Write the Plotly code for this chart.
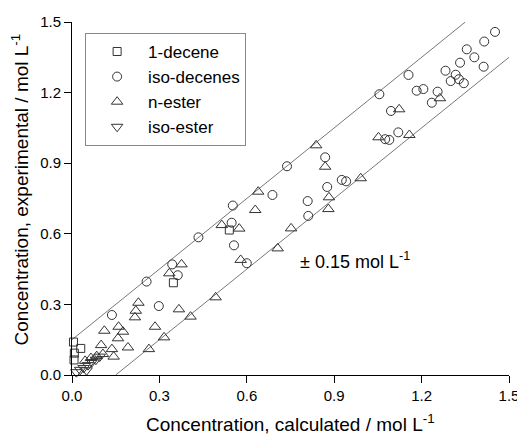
import plotly.graph_objects as go

# ---- data ----
decene_x = [0.005, 0.030, 0.008, 0.007, 0.348, 0.540]
decene_y = [0.140, 0.113, 0.093, 0.064, 0.392, 0.616]

isodecenes_x = [1.452, 1.415, 1.355, 1.381, 1.332, 1.413, 1.282, 1.317, 1.300, 1.328,
                1.345, 1.155, 1.055, 1.183, 1.206, 1.255, 1.235, 1.095, 1.075, 1.089,
                1.120, 0.869, 0.738, 0.926, 0.941, 0.876, 0.809, 0.811, 0.688, 0.552,
                0.548, 0.556, 0.600, 0.434, 0.344, 0.363, 0.256, 0.298, 0.137]
isodecenes_y = [1.458, 1.417, 1.384, 1.350, 1.327, 1.310, 1.293, 1.276, 1.249, 1.257,
                1.240, 1.275, 1.193, 1.208, 1.215, 1.204, 1.157, 1.122, 1.002, 0.999,
                1.031, 0.925, 0.887, 0.829, 0.823, 0.799, 0.739, 0.676, 0.765, 0.720,
                0.647, 0.551, 0.475, 0.585, 0.470, 0.424, 0.397, 0.293, 0.255]

nester_x = [1.263, 1.123, 1.052, 1.158, 0.838, 0.869, 0.991, 0.882, 0.880, 0.639,
            0.629, 0.574, 0.514, 0.752, 0.706, 0.579, 0.376, 0.334, 0.228, 0.219,
            0.216, 0.367, 0.407, 0.493, 0.285, 0.316, 0.264, 0.111, 0.160, 0.175,
            0.158, 0.100, 0.137, 0.192, 0.106, 0.143, 0.045, 0.065, 0.085]
nester_y = [1.176, 1.129, 1.010, 1.020, 0.976, 0.885, 0.836, 0.755, 0.705, 0.779,
            0.701, 0.622, 0.637, 0.623, 0.538, 0.489, 0.470, 0.432, 0.307, 0.273,
            0.245, 0.279, 0.248, 0.330, 0.205, 0.160, 0.110, 0.188, 0.205, 0.184,
            0.156, 0.127, 0.110, 0.117, 0.089, 0.078, 0.060, 0.072, 0.080]

isoester_x = [0.015, 0.028, 0.040, 0.055, 0.068, 0.082, 0.095, 0.050]
isoester_y = [0.012, 0.022, 0.030, 0.042, 0.055, 0.065, 0.078, 0.020]

tolerance = 0.15
axis_min, axis_max = 0.0, 1.5
tick_step = 0.3

x_title = "Concentration, calculated / mol L<sup>-1</sup>"
y_title = "Concentration, experimental / mol L<sup>-1</sup>"
band_label = "\u00b1 0.15 mol L<sup>-1</sup>"

FONT = "Arial, Liberation Sans, sans-serif"
MK = dict(color="rgba(0,0,0,0)", line=dict(color="#333333", width=1))

fig = go.Figure()

# tolerance band lines
fig.add_trace(go.Scatter(x=[axis_min, axis_max - tolerance], y=[axis_min + tolerance, axis_max],
                         mode="lines", line=dict(color="#555555", width=0.8),
                         showlegend=False, hoverinfo="skip"))
fig.add_trace(go.Scatter(x=[axis_min + tolerance, axis_max], y=[axis_min, axis_max - tolerance],
                         mode="lines", line=dict(color="#555555", width=0.8),
                         showlegend=False, hoverinfo="skip"))

fig.add_trace(go.Scatter(x=decene_x, y=decene_y, mode="markers", name="1-decene",
                         marker=dict(symbol="square", size=8, **MK), cliponaxis=False))
fig.add_trace(go.Scatter(x=isodecenes_x, y=isodecenes_y, mode="markers", name="iso-decenes",
                         marker=dict(symbol="circle", size=9, **MK)))
fig.add_trace(go.Scatter(x=nester_x, y=nester_y, mode="markers", name="n-ester",
                         marker=dict(symbol="triangle-up", size=10, **MK)))
fig.add_trace(go.Scatter(x=isoester_x, y=isoester_y, mode="markers", name="iso-ester",
                         marker=dict(symbol="triangle-down", size=10, **MK), cliponaxis=False))

common = dict(range=[axis_min, axis_max], dtick=tick_step, tick0=0, tickformat=".1f",
              showgrid=False, zeroline=False, showline=True, linecolor="black", linewidth=1,
              tickcolor="black", ticklen=7, tickwidth=1, automargin=False)
tickfont = dict(family=FONT, size=15, color="black")

# page body has an 8px margin, so the figure is sized / offset to compensate
fig.update_layout(
    width=517, height=429,
    margin=dict(l=64, r=16, t=14, b=62),
    paper_bgcolor="white", plot_bgcolor="white",
    font=dict(family=FONT, color="black"),
    xaxis=dict(ticks="outside", tickfont=tickfont, **common),
    yaxis=dict(ticks="outside", tickfont=tickfont, **common),
    xaxis2=dict(overlaying="x", side="top", ticks="inside", showticklabels=False, **common),
    yaxis2=dict(overlaying="y", side="right", ticks="inside", showticklabels=False, **common),
    legend=dict(x=0.03, y=0.969, xanchor="left", yanchor="top",
                bgcolor="white", bordercolor="#888888", borderwidth=1,
                font=dict(family=FONT, size=17, color="black"),
                itemwidth=52, tracegroupgap=0),
    annotations=[
        dict(x=0.776, y=0.485, xref="x", yref="y", xanchor="left", yanchor="middle",
             text=band_label, showarrow=False,
             font=dict(family=FONT, size=18, color="black")),
        dict(x=0.5, y=-0.137, xref="paper", yref="paper", xanchor="center", yanchor="middle",
             text=x_title, showarrow=False, borderpad=0,
             font=dict(family=FONT, size=19, color="black")),
        dict(x=-0.12, y=0.524, xref="paper", yref="paper", xanchor="center", yanchor="middle",
             text=y_title, showarrow=False, textangle=-90, borderpad=0,
             font=dict(family=FONT, size=19, color="black")),
    ],
)

fig.write_html("out.html")
